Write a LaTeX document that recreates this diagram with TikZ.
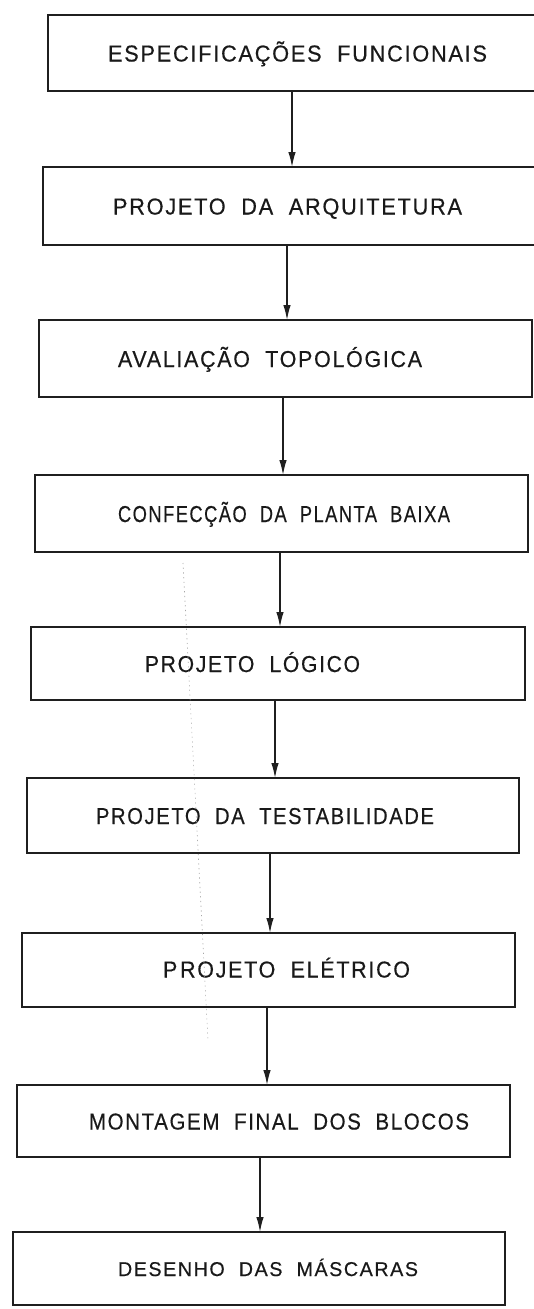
\documentclass[tikz,border=0pt]{standalone}
\usepackage{fontspec}
\usepackage{graphicx}
\newfontfamily\lettering[LetterSpace=8,WordSpace=2.0,FakeBold=0.5]{Liberation Sans}
\usetikzlibrary{arrows.meta}
\newcommand{\fitw}[2]{\resizebox{#1}{\height}{#2}}
\begin{document}
\begin{tikzpicture}[x=1pt,y=-1pt,
  stagebox/.style={draw=black!88, line width=1.8pt, inner sep=0pt, outer sep=0pt, fill=none},
  stagetext/.style={anchor=base west, inner sep=0pt, outer sep=0pt, text=black!90,
                    font=\lettering\fontsize{23}{26}\selectfont},
  flow/.style={draw=black!88, line width=1.4pt, -{Latex[length=15pt,width=7.5pt]}},
  scanmark/.style={draw=black!35, line width=0.6pt, dash pattern=on 1.2pt off 3.5pt}]
\useasboundingbox (0,0) rectangle (534,1309);

% boxes
\node[stagebox, minimum width=500, minimum height=76] (b1) at (298,53) {};
\node[stagebox, minimum width=497, minimum height=78] (b2) at (291.5,206) {};
\node[stagebox, minimum width=493, minimum height=77] (b3) at (285.5,358.5) {};
\node[stagebox, minimum width=493, minimum height=77] (b4) at (281.5,513.5) {};
\node[stagebox, minimum width=494, minimum height=73] (b5) at (278,663.5) {};
\node[stagebox, minimum width=492, minimum height=75] (b6) at (273,815.5) {};
\node[stagebox, minimum width=493, minimum height=74] (b7) at (268.5,970) {};
\node[stagebox, minimum width=493, minimum height=72] (b8) at (263.5,1121) {};
\node[stagebox, minimum width=492, minimum height=73] (b9) at (259,1268.5) {};

% texts
\node[stagetext] (t1) at (108,61.5) {\fitw{379pt}{ESPECIFICAÇÕES FUNCIONAIS}};
\node[stagetext] (t2) at (113,214.5) {\fitw{349pt}{PROJETO DA ARQUITETURA}};
\node[stagetext] (t3) at (118,367) {\fitw{304pt}{AVALIAÇÃO TOPOLÓGICA}};
\node[stagetext] (t4) at (118,522) {\fitw{332pt}{CONFECÇÃO DA PLANTA BAIXA}};
\node[stagetext] (t5) at (145,672) {\fitw{215pt}{PROJETO LÓGICO}};
\node[stagetext] (t6) at (96,824) {\fitw{338pt}{PROJETO DA TESTABILIDADE}};
\node[stagetext] (t7) at (163,977.5) {\fitw{247pt}{P\kern3pt ROJETO ELÉTRICO}};
\node[stagetext] (t8) at (89,1129.5) {\fitw{380pt}{MONTAGEM FINAL DOS BLOCOS}};
\node[stagetext, font=\lettering\fontsize{20}{23}\selectfont] (t9) at (118,1276) {\fitw{300pt}{DESENHO DAS MÁSCARAS}};

% arrow x positions
\coordinate (a1) at (292,0);
\coordinate (a2) at (287,0);
\coordinate (a3) at (283,0);
\coordinate (a4) at (280,0);
\coordinate (a5) at (275,0);
\coordinate (a6) at (270,0);
\coordinate (a7) at (267,0);
\coordinate (a8) at (260,0);

\draw[flow] (b1.south -| a1) -- (b2.north -| a1);
\draw[flow] (b2.south -| a2) -- (b3.north -| a2);
\draw[flow] (b3.south -| a3) -- (b4.north -| a3);
\draw[flow] (b4.south -| a4) -- (b5.north -| a4);
\draw[flow] (b5.south -| a5) -- (b6.north -| a5);
\draw[flow] (b6.south -| a6) -- (b7.north -| a6);
\draw[flow] (b7.south -| a7) -- (b8.north -| a7);
\draw[flow] (b8.south -| a8) -- (b9.north -| a8);

% faint dotted scan line
\draw[scanmark] (183,563) -- (208,1040);
\end{tikzpicture}
\end{document}
